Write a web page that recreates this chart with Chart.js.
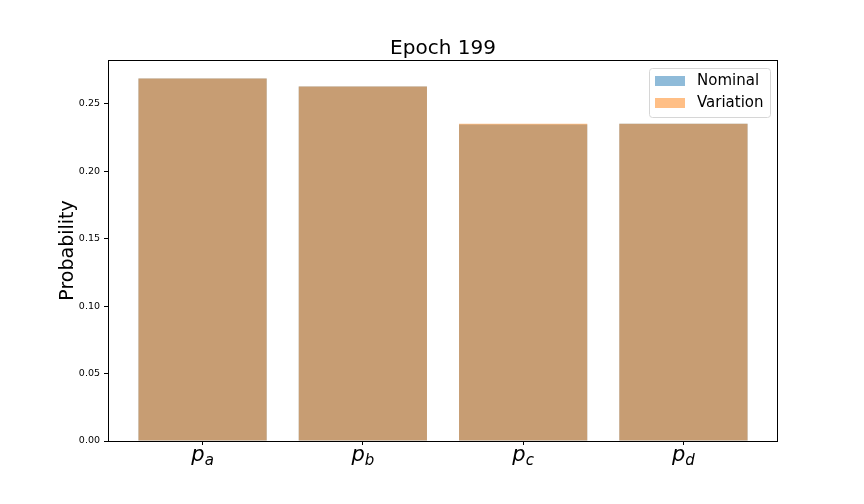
<!DOCTYPE html>
<html>
<head>
<meta charset="utf-8">
<script src="https://cdn.jsdelivr.net/npm/chart.js@4.4.1/dist/chart.umd.min.js"></script>
<style>
  html, body { margin: 0; padding: 0; background: #fff; }
  #wrap { width: 864px; height: 504px; }
</style>
</head>
<body>
<div id="wrap"><canvas id="barChart" width="864" height="504"></canvas></div>
<script>
// dữ liệu
const categories = ['a', 'b', 'c', 'd'];
const nominal = [0.2686, 0.2627, 0.2345, 0.2352];
const variation = [0.2686, 0.2627, 0.2352, 0.2352];
const yTicks = [0, 0.05, 0.10, 0.15, 0.20, 0.25];
const titleText = 'Epoch 199';
const yLabel = 'Probability';

const FONT = '"DejaVu Sans", sans-serif';

// vẽ tiêu đề, nhãn trục, legend và khung
const decor = {
    id: 'decor',
    afterDraw(chart) {
        const ctx = chart.ctx;
        const a = chart.chartArea;
        const xs = chart.scales.x;
        ctx.save();
        // khung quanh vùng vẽ
        ctx.strokeStyle = '#000';
        ctx.lineWidth = 1;
        ctx.strokeRect(a.left + 0.5, a.top + 0.5, a.right - a.left - 1, a.bottom - a.top);

        // tiêu đề
        ctx.fillStyle = '#000';
        ctx.font = '20px ' + FONT;
        ctx.textAlign = 'center';
        ctx.textBaseline = 'alphabetic';
        ctx.fillText(titleText, (a.left + a.right) / 2, 54);

        // nhãn trục y
        ctx.save();
        ctx.translate(73, (a.top + a.bottom) / 2);
        ctx.rotate(-Math.PI / 2);
        ctx.font = '19px ' + FONT;
        ctx.textBaseline = 'alphabetic';
        ctx.fillText(yLabel, 0, 0);
        ctx.restore();

        // nhãn trục x: p với chỉ số dưới
        categories.forEach((c, i) => {
            const x = xs.getPixelForValue(i);
            ctx.font = 'italic 21px ' + FONT;
            const wp = ctx.measureText('p').width;
            ctx.font = 'italic 15px ' + FONT;
            const ws = ctx.measureText(c).width;
            const x0 = x - (wp + ws) / 2;
            ctx.textAlign = 'left';
            ctx.font = 'italic 21px ' + FONT;
            ctx.fillText('p', x0, 461);
            ctx.font = 'italic 15px ' + FONT;
            ctx.fillText(c, x0 + wp, 465);
        });

        // legend
        const lx = 649.5, ly = 68.5, lw = 121, lh = 49;
        ctx.beginPath();
        ctx.roundRect(lx, ly, lw, lh, 3);
        ctx.fillStyle = 'rgba(255,255,255,0.8)';
        ctx.fill();
        ctx.strokeStyle = '#d6d6d6';
        ctx.stroke();
        const items = [
            { label: 'Nominal', color: 'rgba(31,119,180,0.5)', y: 76 },
            { label: 'Variation', color: 'rgba(255,127,14,0.5)', y: 98 }
        ];
        ctx.font = '15px ' + FONT;
        ctx.textAlign = 'left';
        ctx.textBaseline = 'middle';
        items.forEach(it => {
            ctx.fillStyle = it.color;
            ctx.fillRect(655, it.y, 30, 10);
            ctx.fillStyle = '#000';
            ctx.fillText(it.label, 697, it.y + 5);
        });
        ctx.restore();
    }
};

new Chart(document.getElementById('barChart').getContext('2d'), {
    type: 'bar',
    data: {
        datasets: [{
            label: 'Nominal',
            order: 1,
            data: nominal.map((v, i) => ({ x: i, y: v })),
            backgroundColor: 'rgba(31,119,180,0.5)',
            borderWidth: 0
        }, {
            label: 'Variation',
            order: 0,
            data: variation.map((v, i) => ({ x: i, y: v })),
            backgroundColor: 'rgba(255,127,14,0.5)',
            borderWidth: 0
        }]
    },
    options: {
        responsive: false,
        animation: false,
        devicePixelRatio: 1,
        grouped: false,
        barPercentage: 0.8,
        categoryPercentage: 1.0,
        layout: { padding: { left: 0, right: 86, top: 60, bottom: 63 } },
        plugins: {
            legend: { display: false },
            title: { display: false },
            tooltip: { enabled: false }
        },
        scales: {
            x: {
                type: 'linear',
                offset: false,
                min: -0.59,
                max: 3.59,
                afterBuildTicks: s => { s.ticks = categories.map((c, i) => ({ value: i })); },
                afterFit: s => { s.height = 0; },
                grid: { drawOnChartArea: false, tickLength: 4, color: '#000', offset: false },
                border: { display: false },
                ticks: { display: false }
            },
            y: {
                min: 0,
                max: 0.2824,
                afterBuildTicks: s => { s.ticks = yTicks.map(v => ({ value: v })); },
                afterFit: s => { s.width = 108; },
                grid: { drawOnChartArea: false, tickLength: 4, color: '#000' },
                border: { display: false },
                ticks: {
                    color: '#000',
                    padding: 4,
                    font: { family: FONT, size: 9.5 },
                    callback: v => v.toFixed(2)
                }
            }
        }
    },
    plugins: [decor]
});
</script>
</body>
</html>
